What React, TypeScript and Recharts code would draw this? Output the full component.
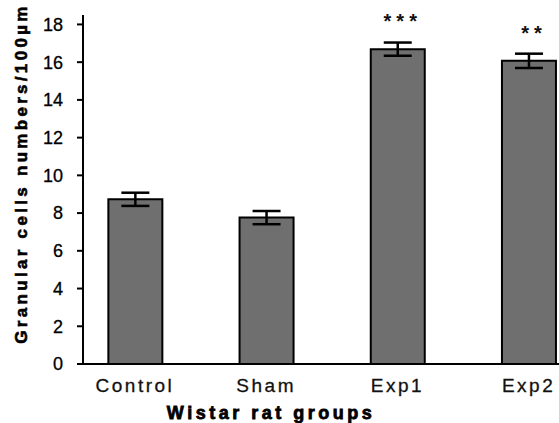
import React from 'react';
import { BarChart, Bar, XAxis, YAxis, ErrorBar, LabelList } from 'recharts';

const categories = ['Control', 'Sham', 'Exp1', 'Exp2'];
const means = [8.73, 7.76, 16.69, 16.07];
const sems = [0.35, 0.35, 0.35, 0.38];
const significance = ['', '', '***', '**'];
const yTicks = [0, 2, 4, 6, 8, 10, 12, 14, 16, 18];
const xTicks = [0, 1, 2, 3];

const data = categories.map((name, i) => ({
  pos: i,
  name,
  value: means[i],
  err: sems[i],
  sig: significance[i],
}));

const FONT = '"Liberation Sans", Arial, Helvetica, sans-serif';

const XTick = (props: any) => {
  const { x, y, payload } = props;
  return (
    <text
      x={x}
      y={y + 20}
      textAnchor="middle"
      fontFamily={FONT}
      fontSize={19}
      letterSpacing={2.5}
      fill="#111"
      stroke="#111"
      strokeWidth={0.3}
    >
      {categories[payload.value]}
    </text>
  );
};

const StarLabel = (props: any) => {
  const { x, y, width, value } = props;
  if (!value) return null;
  return (
    <text
      x={x + width / 2 + 5}
      y={y - 21}
      textAnchor="middle"
      fontFamily={FONT}
      fontSize={20}
      fontWeight="bold"
      letterSpacing={5}
      fill="#111"
    >
      {value}
    </text>
  );
};

const XLabel = (props: any) => {
  const vb = props.viewBox;
  return (
    <text
      x={vb.x + vb.width / 2 - 50}
      y={vb.y + vb.height - 4}
      textAnchor="middle"
      fontFamily={FONT}
      fontSize={18}
      fontWeight="bold"
      letterSpacing={3.5}
      fill="#000"
      stroke="#000"
      strokeWidth={0.8}
    >
      Wistar rat groups
    </text>
  );
};

const YLabel = (props: any) => {
  const vb = props.viewBox;
  const cx = 21;
  const cy = vb.y + vb.height / 2 - 16;
  return (
    <text
      x={cx}
      y={cy}
      transform={`rotate(-90 ${cx} ${cy})`}
      textAnchor="middle"
      dominantBaseline="central"
      fontFamily={FONT}
      fontSize={17}
      fontWeight="bold"
      letterSpacing={3.3}
      fill="#000"
      stroke="#000"
      strokeWidth={0.6}
    >
      Granular cells numbers/100µm
    </text>
  );
};

export default function App() {
  return (
    <div style={{ position: 'absolute', left: 0, top: 0, width: 559, height: 423, background: '#fff', overflow: 'hidden' }}>
      <BarChart
        width={559}
        height={423}
        data={data}
        margin={{ top: 15, right: 0, bottom: 0, left: 0 }}
      >
        <XAxis
          dataKey="pos"
          type="number"
          domain={[-0.396, 3.232]}
          ticks={xTicks}
          allowDataOverflow
          height={59}
          tickLine={false}
          axisLine={{ stroke: '#000', strokeWidth: 2 }}
          tick={<XTick />}
          interval={0}
          label={<XLabel />}
        />
        <YAxis
          type="number"
          domain={[0, 18.5]}
          ticks={yTicks}
          width={83}
          allowDataOverflow
          tickSize={6}
          tickMargin={14}
          tickLine={{ stroke: '#000', strokeWidth: 2 }}
          axisLine={{ stroke: '#000', strokeWidth: 2 }}
          tick={{ fontFamily: FONT, fontSize: 18, fill: '#000', stroke: '#000', strokeWidth: 0.3 }}
          label={<YLabel />}
        />
        <Bar
          dataKey="value"
          barSize={54}
          fill="#6f6f6f"
          stroke="#000"
          strokeWidth={2}
          isAnimationActive={false}
        >
          <ErrorBar dataKey="err" width={14} stroke="#000" strokeWidth={2.5} direction="y" />
          <LabelList dataKey="sig" content={<StarLabel />} />
        </Bar>
      </BarChart>
    </div>
  );
}
